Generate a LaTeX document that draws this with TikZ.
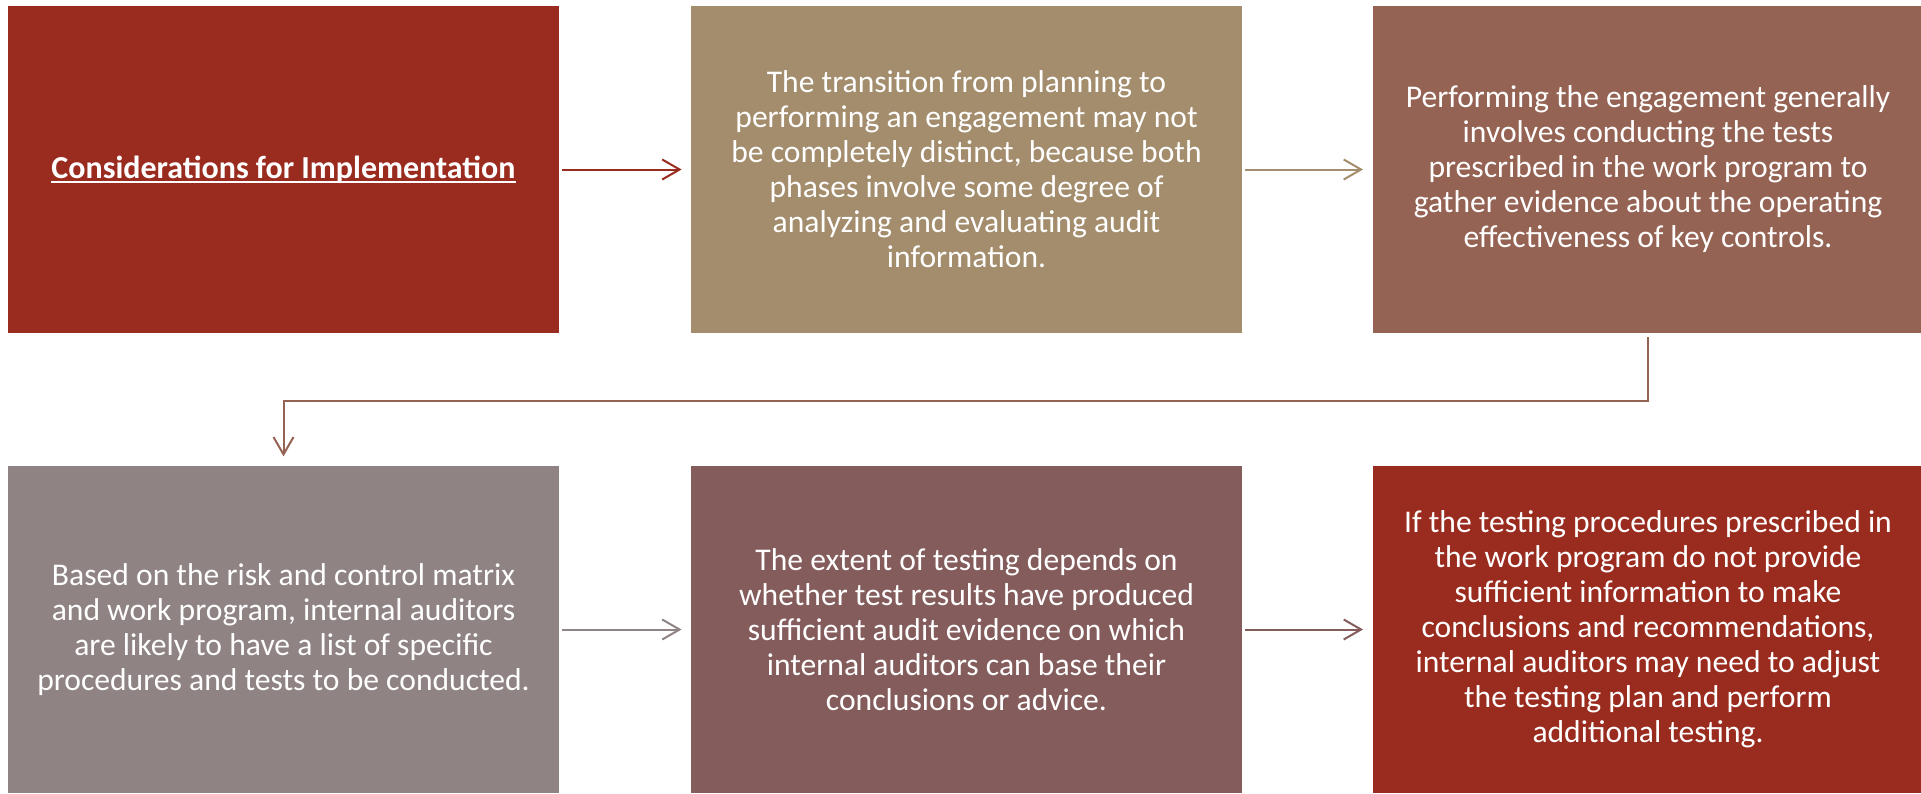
\documentclass[tikz,border=0pt]{standalone}
\usepackage{fontspec}
\setmainfont{Carlito}
\usetikzlibrary{arrows.meta}

\definecolor{redbox}{HTML}{9A2C1F}
\definecolor{tanbox}{HTML}{A38D6D}
\definecolor{brownbox}{HTML}{956353}
\definecolor{greybox}{HTML}{8F8483}
\definecolor{mauvebox}{HTML}{845C5C}

\tikzstyle{stepbox}=[shape=rectangle,inner sep=0pt,minimum width=413pt,minimum height=245.25pt,
  text=white,align=center,font=\fontsize{23.7}{26.25}\selectfont]
\tikzstyle{flow}=[line width=1.5pt,-{Straight Barb[length=13pt,width=15pt,line width=1.5pt]},
  shorten <=2.25pt,shorten >=7pt]
\def\rowa{169.5}
\def\rowb{629.5}
\def\ulbox#1{\setbox0\hbox{#1}\rlap{\rule[-3.6pt]{\wd0}{1.3pt}}\box0}

\begin{document}
\begin{tikzpicture}[x=0.75pt,y=-0.75pt]
\useasboundingbox (0,0) rectangle (1921,793);
% 1st row
\node[stepbox,fill=redbox,font=\fontsize{24}{29}\selectfont\bfseries] (s1) at (283.5,\rowa)
  {\ulbox{Considerations for Implementation}};
\node[stepbox,fill=tanbox] (s2) at (966.5,\rowa)
  {The transition from planning to\\performing an engagement may not\\be completely distinct, because both\\phases involve some degree of\\analyzing and evaluating audit\\information.};
\node[stepbox,fill=brownbox] (s3) at (1648,\rowa)
  {Performing the engagement generally\\involves conducting the tests\\prescribed in the work program to\\gather evidence about the operating\\effectiveness of key controls.};

% 2nd row
\node[stepbox,fill=greybox] (s4) at (283.5,\rowb)
  {Based on the risk and control matrix\\and work program, internal auditors\\are likely to have a list of specific\\procedures and tests to be conducted.};
\node[stepbox,fill=mauvebox] (s5) at (966.5,\rowb)
  {The extent of testing depends on\\whether test results have produced\\sufficient audit evidence on which\\internal auditors can base their\\conclusions or advice.};
\node[stepbox,fill=redbox] (s6) at (1648,\rowb)
  {If the testing procedures prescribed in\\the work program do not provide\\sufficient information to make\\conclusions and recommendations,\\internal auditors may need to adjust\\the testing plan and perform\\additional testing.};

% connectors
\coordinate (bend) at (283.5,401);
\draw[flow,redbox] (s1) -- (s2);
\draw[flow,tanbox] (s2) -- (s3);
\draw[flow,brownbox,shorten <=3pt] (s3.south) |- (bend) -- (s4.north);
\draw[flow,greybox] (s4) -- (s5);
\draw[flow,mauvebox] (s5) -- (s6);
\end{tikzpicture}
\end{document}
